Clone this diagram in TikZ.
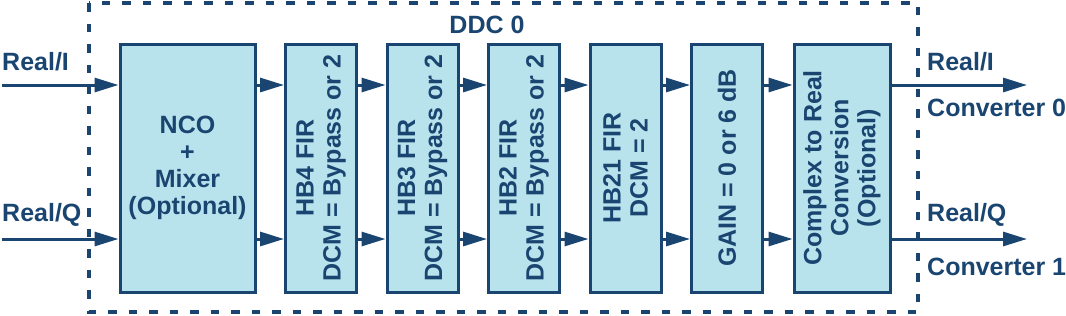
\documentclass[tikz,border=0pt]{standalone}
\usepackage{fontspec}
\setmainfont{Liberation Sans}
\usetikzlibrary{arrows.meta}
\definecolor{ddcnavy}{HTML}{1A4571}
\definecolor{ddcblue}{HTML}{B9E3EC}

\begin{document}
\begin{tikzpicture}[x=1pt, y=-1pt,
    blk/.style={draw=ddcnavy, fill=ddcblue, line width=3pt, inner sep=0pt,
        minimum width=#1, minimum height=248pt},
    txt/.style={text=ddcnavy, font=\fontsize{25}{27}\selectfont\bfseries, align=center, inner sep=0pt},
    lbl/.style={txt, anchor=west},
    arr/.style={draw=ddcnavy, line width=3pt, -{Triangle[length=24pt,width=14pt]}}]
    \useasboundingbox (0,0) rectangle (1066,316);

    % Dashed frame of the DDC
    \draw[ddcnavy, line width=3.3pt, dash pattern=on 8.5pt off 12pt] (89,3) rectangle (918,312);
    \node[txt] (ddc) at (487,25) {DDC 0};

    % Signal rows
    \coordinate (iI) at (2,85);
    \coordinate (iQ) at (2,239);
    \coordinate (oI) at (1027,85);
    \coordinate (oQ) at (1027,239);

    % Blocks
    \node[blk=135pt] (nco) at (187.5,168) {};
    \node[txt] at (nco) {NCO\\+\\Mixer\\(Optional)};
    \foreach \n [count=\k from 0] in {hb4,hb3,hb2,hb21,gain} {
        \node[blk=71pt] (\n) at (321+101.5*\k,168) {};
    }
    \node[blk=96pt] (c2r) at (842,168) {};

    \node[txt, rotate=90] at (hb4) {HB4 FIR\\DCM = Bypass or 2};
    \node[txt, rotate=90] at (hb3) {HB3 FIR\\DCM = Bypass or 2};
    \node[txt, rotate=90] at (hb2) {HB2 FIR\\DCM = Bypass or 2};
    \node[txt, rotate=90] at (hb21) {HB21 FIR\\DCM = 2};
    \node[txt, rotate=90] at (gain) {GAIN = 0 or 6 dB};
    \node[txt, rotate=90] at (c2r) {Complex to Real\\Conversion\\(Optional)};

    % Arrows between the blocks
    \draw[arr] (iI) -- (iI -| nco.west);
    \draw[arr] (iQ) -- (iQ -| nco.west);
    \foreach \a/\b in {nco/hb4,hb4/hb3,hb3/hb2,hb2/hb21,hb21/gain,gain/c2r} {
        \draw[arr] (iI -| \a.east) -- (iI -| \b.west);
        \draw[arr] (iQ -| \a.east) -- (iQ -| \b.west);
    }
    \draw[arr] (iI -| c2r.east) -- (oI);
    \draw[arr] (iQ -| c2r.east) -- (oQ);

    % Port labels
    \node[lbl] (inI) at (2,62) {Real/I};
    \node[lbl] (inQ) at (2,215) {Real/Q};
    \node[lbl] (outI) at (927,62) {Real/I};
    \node[lbl] (cnv0) at (927,108) {Converter 0};
    \node[lbl] (outQ) at (927,215) {Real/Q};
    \node[lbl] (cnv1) at (927,267) {Converter 1};

\end{tikzpicture}
\end{document}
